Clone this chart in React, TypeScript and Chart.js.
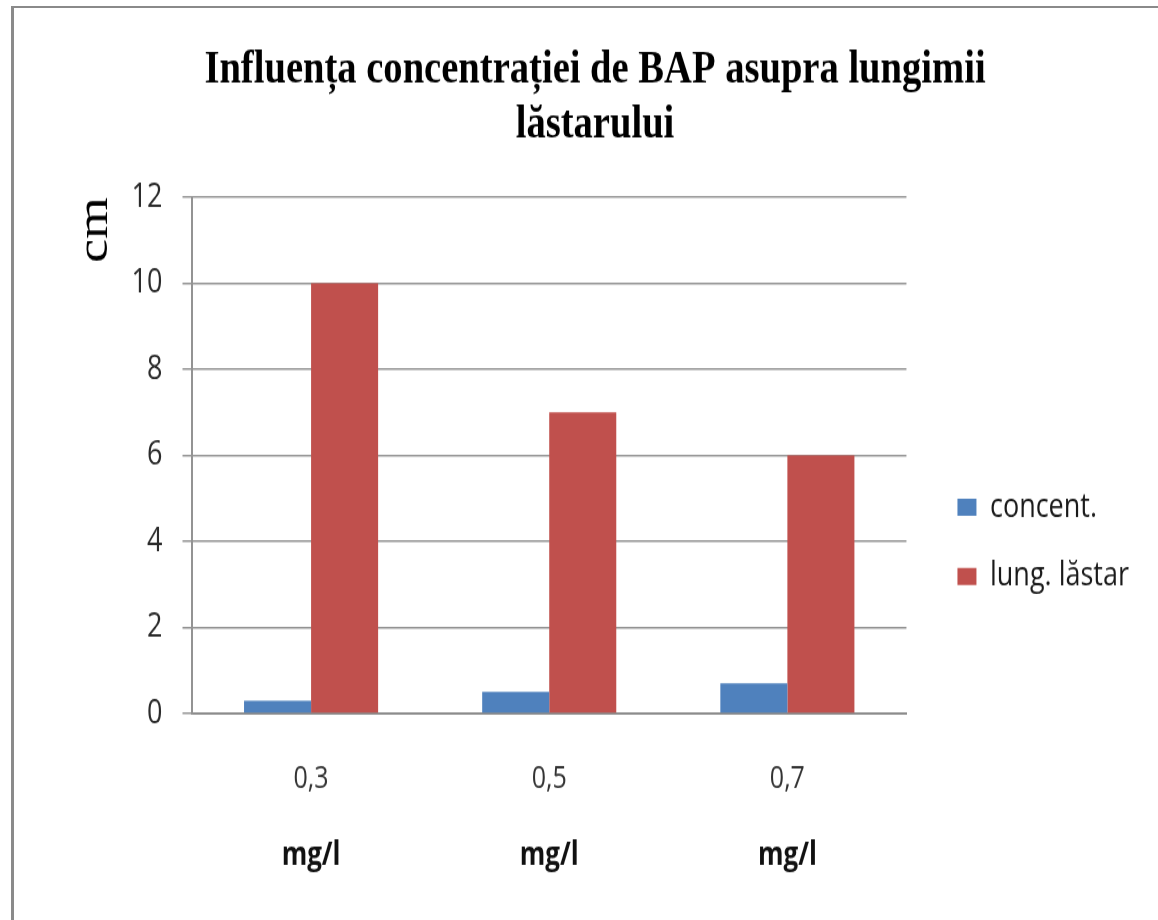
import React, { useEffect, useRef } from "react";
import { Chart, registerables } from "chart.js";

Chart.register(...registerables);

const titleLines = ["Influența concentrației de BAP asupra lungimii", "lăstarului"];
const categories = ["0,3", "0,5", "0,7"];
const unitLabels = ["mg/l", "mg/l", "mg/l"];
const seriesNames = ["concent.", "lung. lăstar"];
const concentValues = [0.3, 0.5, 0.7];
const lungValues = [10, 7, 6];
const yAxisTitle = "cm";
const yMin = 0;
const yMax = 12;
const yStep = 2;

const sansFamily = "'Open Sans', 'Noto Sans', sans-serif";
const serifFamily = "'Liberation Serif', 'Times New Roman', serif";

// drawing size of the canvas and its displayed (vertically stretched) size
const DRAW_W = 1125;
const DRAW_H = 748;
const SHOW_H = 913;

export default function App() {
  const canvasRef = useRef<HTMLCanvasElement | null>(null);

  useEffect(() => {
    const canvas = canvasRef.current;
    if (!canvas) return;
    const chart = new Chart(canvas, {
      type: "bar",
      data: {
        labels: categories,
        datasets: [
          {
            label: seriesNames[0],
            data: concentValues,
            backgroundColor: "#4F81BD",
            borderWidth: 0,
            categoryPercentage: 0.563,
            barPercentage: 1.0,
          },
          {
            label: seriesNames[1],
            data: lungValues,
            backgroundColor: "#C0504D",
            borderWidth: 0,
            categoryPercentage: 0.563,
            barPercentage: 1.0,
          },
        ],
      },
      options: {
        responsive: false,
        animation: false,
        layout: { padding: { left: 37, right: 0, top: 0, bottom: 38 } },
        plugins: {
          title: {
            display: true,
            text: titleLines,
            color: "#000000",
            font: { family: serifFamily, size: 38.6, weight: "bold", lineHeight: 1.166 },
            padding: { top: 29, bottom: 35.9 },
          },
          legend: {
            position: "right",
            align: "center",
            maxWidth: 400,
            title: {
              display: true,
              text: " ",
              font: { size: 10, lineHeight: 1.2 },
              padding: { top: 152.7, bottom: 0 },
            },
            labels: {
              boxWidth: 19,
              boxHeight: 14,
              padding: 29.6,
              color: "#1a1a1a",
              font: { family: sansFamily, size: 27 },
            },
          },
          tooltip: { enabled: false },
        },
        scales: {
          x: {
            type: "category",
            position: "bottom",
            grid: { display: false, drawTicks: false },
            border: { display: true, color: "#8c8c8c", width: 2 },
            ticks: {
              color: "#333333",
              padding: 39.1,
              font: { family: sansFamily, size: 25 },
            },
            afterFit: (scale: any) => {
              scale.height = 69.1;
            },
          },
          x2: {
            type: "category",
            position: "bottom",
            labels: unitLabels,
            grid: { display: false, drawTicks: false },
            border: { display: false },
            ticks: {
              color: "#111111",
              padding: 31.7,
              font: { family: sansFamily, size: 26, weight: "bold" },
            },
            afterFit: (scale: any) => {
              scale.height = 62.9;
            },
          },
          y: {
            min: yMin,
            max: yMax,
            ticks: {
              stepSize: yStep,
              color: "#2b2b2b",
              padding: 20,
              font: { family: sansFamily, size: 27 },
            },
            grid: { color: "#939393", lineWidth: 1.5, tickLength: 9.5 },
            border: { display: true, color: "#939393", width: 2 },
            title: {
              display: true,
              text: yAxisTitle,
              align: "end",
              color: "#000000",
              font: { family: serifFamily, size: 44 },
              padding: { top: 17.6, bottom: 0 },
            },
            afterFit: (scale: any) => {
              scale.width = 141;
            },
          },
          gap: {
            type: "linear",
            position: "right",
            display: true,
            grid: { display: false, drawTicks: false },
            border: { display: false },
            ticks: { display: false },
            afterFit: (scale: any) => {
              scale.width = 21.4;
            },
          },
        },
      },
    });
    return () => chart.destroy();
  }, []);

  return (
    <div
      style={{
        position: "fixed",
        left: 0,
        top: 0,
        width: 1158,
        height: 920,
        overflow: "hidden",
        background: "#ffffff",
      }}
    >
      <div
        style={{
          position: "absolute",
          left: 11,
          top: 6,
          width: 1400,
          height: 1100,
          borderLeft: "3px solid #8a8a8a",
          borderTop: "2px solid #8a8a8a",
        }}
      />
      <canvas
        ref={canvasRef}
        width={DRAW_W}
        height={DRAW_H}
        style={{ position: "absolute", left: 14, top: 8, width: DRAW_W, height: SHOW_H }}
      />
    </div>
  );
}
